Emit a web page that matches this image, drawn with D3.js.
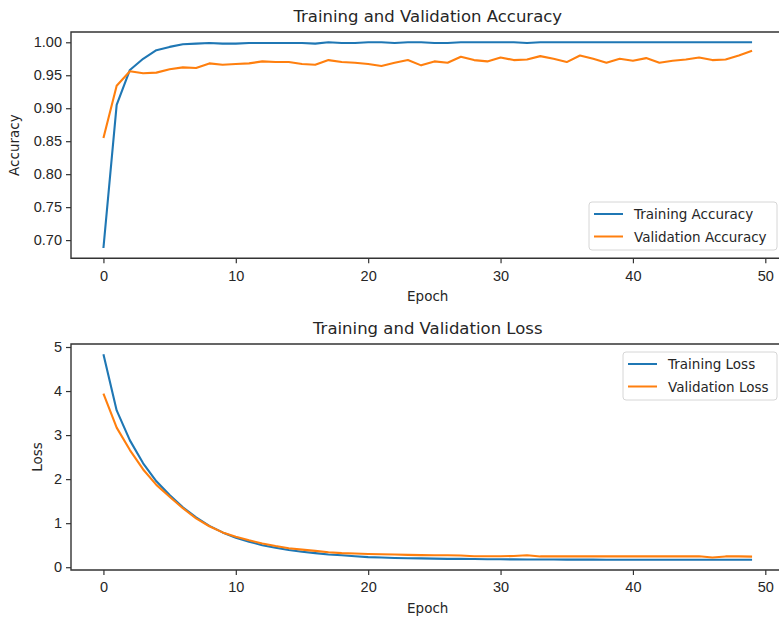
<!DOCTYPE html>
<html>
<head>
<meta charset="utf-8">
<script src="https://cdn.jsdelivr.net/npm/d3@7"></script>
<style>
    body { margin: 0; background: #fff; }
    svg { display: block; font-family: "DejaVu Sans", sans-serif; }
    .tick text { font-size: 14.5px; fill: #262626; }
    .tick line { stroke: #333; stroke-width: 1.2; }
    .axisLabel { font-size: 13.5px; fill: #262626; }
    .plotTitle { font-size: 16.5px; fill: #262626; }
    .legendText { font-size: 13.5px; fill: #262626; }
</style>
</head>
<body>
<svg id="chartSVG" width="779" height="619"></svg>
<script>
//////////////////// DATA ////////////////////
const epochs = d3.range(0, 50);

const trainAcc = [0.688, 0.905, 0.958, 0.975, 0.988, 0.993, 0.997, 0.998, 0.999, 0.998,
    0.998, 0.999, 0.999, 0.999, 0.999, 0.999, 0.998, 1.000, 0.999, 0.999,
    1.000, 1.000, 0.999, 1.000, 1.000, 0.999, 0.999, 1.000, 1.000, 1.000,
    1.000, 1.000, 0.999, 1.000, 1.000, 1.000, 1.000, 1.000, 1.000, 1.000,
    1.000, 1.000, 1.000, 1.000, 1.000, 1.000, 1.000, 1.000, 1.000, 1.000];

const valAcc = [0.855, 0.934, 0.956, 0.953, 0.954, 0.959, 0.962, 0.961, 0.968, 0.966,
    0.967, 0.968, 0.971, 0.970, 0.970, 0.967, 0.966, 0.973, 0.970, 0.969,
    0.967, 0.964, 0.969, 0.973, 0.965, 0.971, 0.969, 0.978, 0.973, 0.971,
    0.977, 0.973, 0.974, 0.979, 0.975, 0.970, 0.980, 0.975, 0.969, 0.975,
    0.972, 0.976, 0.969, 0.972, 0.974, 0.977, 0.973, 0.974, 0.980, 0.987];

const trainLoss = [4.835, 3.56, 2.88, 2.36, 1.95, 1.64, 1.36, 1.13, 0.94, 0.79,
    0.67, 0.58, 0.50, 0.44, 0.39, 0.35, 0.32, 0.29, 0.27, 0.25,
    0.23, 0.22, 0.21, 0.205, 0.20, 0.195, 0.19, 0.19, 0.185, 0.18,
    0.18, 0.178, 0.176, 0.175, 0.174, 0.173, 0.172, 0.172, 0.171, 0.171,
    0.17, 0.17, 0.17, 0.17, 0.17, 0.17, 0.17, 0.17, 0.17, 0.17];

const valLoss = [3.94, 3.17, 2.66, 2.22, 1.87, 1.60, 1.34, 1.11, 0.93, 0.79,
    0.69, 0.61, 0.54, 0.48, 0.43, 0.40, 0.37, 0.34, 0.32, 0.31,
    0.30, 0.295, 0.29, 0.28, 0.275, 0.27, 0.27, 0.265, 0.25, 0.25,
    0.25, 0.255, 0.27, 0.245, 0.25, 0.245, 0.25, 0.245, 0.245, 0.25,
    0.245, 0.25, 0.245, 0.25, 0.245, 0.25, 0.22, 0.245, 0.245, 0.24];

const xTicks = [0, 10, 20, 30, 40, 50];
const accTicks = [0.70, 0.75, 0.80, 0.85, 0.90, 0.95, 1.00];
const lossTicks = [0, 1, 2, 3, 4, 5];

const accLabels = ["Training Accuracy", "Validation Accuracy"];
const lossLabels = ["Training Loss", "Validation Loss"];

const colors = ["#1f77b4", "#ff7f0e"];


//////////////////// HANDLE SIZES ////////////////////
// right edge of the axes is cut off by the picture
const panelX = { left: 71, right: 784.5 };
const accPanel = { top: 32, bottom: 258.3 };
const lossPanel = { top: 344, bottom: 570 };

const svg = d3.select("#chartSVG");


//////////////////// HELPERS ////////////////////
// matplotlib style 5% margins
function padDomain(values) {
    const lo = d3.min(values), hi = d3.max(values);
    const m = (hi - lo) * 0.05;
    return [lo - m, hi + m];
}

function drawPanel(panel, series, labels, yTicks, yFormat, titleText, yLabel, yLabelX, legendBox) {

    const xScale = d3.scaleLinear()
        .domain(padDomain(epochs))
        .range([panelX.left, panelX.right]);

    const yScale = d3.scaleLinear()
        .domain(padDomain(series.flat()))
        .range([panel.bottom, panel.top]);

    const g = svg.append("g");

    // lines
    const line = d3.line()
        .x((d, i) => xScale(epochs[i]))
        .y(d => yScale(d));

    series.forEach((s, k) => {
        g.append("path")
            .datum(s)
            .attr("fill", "none")
            .attr("stroke", colors[k])
            .attr("stroke-width", 2.1)
            .attr("stroke-linejoin", "round")
            .attr("d", line);
    });

    // x axis
    const xAxis = g.append("g")
        .attr("transform", `translate(0,${panel.bottom})`)
        .call(d3.axisBottom(xScale).tickValues(xTicks).tickSize(5).tickPadding(7));

    // y axis
    const yAxis = g.append("g")
        .attr("transform", `translate(${panelX.left},0)`)
        .call(d3.axisLeft(yScale).tickValues(yTicks).tickFormat(yFormat).tickSize(5).tickPadding(4));

    xAxis.select(".domain").remove();
    yAxis.select(".domain").remove();

    // spines (left, top, bottom)
    g.append("path")
        .attr("d", `M${panelX.right},${panel.top}H${panelX.left}V${panel.bottom}H${panelX.right}`)
        .attr("fill", "none")
        .attr("stroke", "#333")
        .attr("stroke-width", 1.4);

    // title
    g.append("text")
        .attr("class", "plotTitle")
        .attr("x", (panelX.left + panelX.right) / 2)
        .attr("y", panel.top - 10)
        .attr("text-anchor", "middle")
        .text(titleText);

    // axis labels
    g.append("text")
        .attr("class", "axisLabel")
        .attr("x", (panelX.left + panelX.right) / 2)
        .attr("y", panel.bottom + 43)
        .attr("text-anchor", "middle")
        .text("Epoch");

    g.append("text")
        .attr("class", "axisLabel")
        .attr("transform", `translate(${yLabelX},${(panel.top + panel.bottom) / 2}) rotate(-90)`)
        .attr("text-anchor", "middle")
        .text(yLabel);

    // legend
    const legend = g.append("g")
        .attr("transform", `translate(${legendBox.x},${legendBox.y})`);

    legend.append("rect")
        .attr("width", legendBox.w)
        .attr("height", 48)
        .attr("rx", 3)
        .attr("fill", "#fff")
        .attr("fill-opacity", 0.8)
        .attr("stroke", "#d6d6d6");

    labels.forEach((lab, k) => {
        const ly = 12 + k * 22.5;
        legend.append("line")
            .attr("x1", 5).attr("x2", 34)
            .attr("y1", ly).attr("y2", ly)
            .attr("stroke", colors[k])
            .attr("stroke-width", 2);
        legend.append("text")
            .attr("class", "legendText")
            .attr("x", 45)
            .attr("y", ly + 5)
            .text(lab);
    });
}


//////////////////// DRAW ////////////////////
drawPanel(accPanel, [trainAcc, valAcc], accLabels, accTicks, d3.format(".2f"),
    "Training and Validation Accuracy", "Accuracy", 19,
    { x: 589, y: 202, w: 188 });

drawPanel(lossPanel, [trainLoss, valLoss], lossLabels, lossTicks, d3.format("d"),
    "Training and Validation Loss", "Loss", 42,
    { x: 623, y: 352, w: 154 });
</script>
</body>
</html>
